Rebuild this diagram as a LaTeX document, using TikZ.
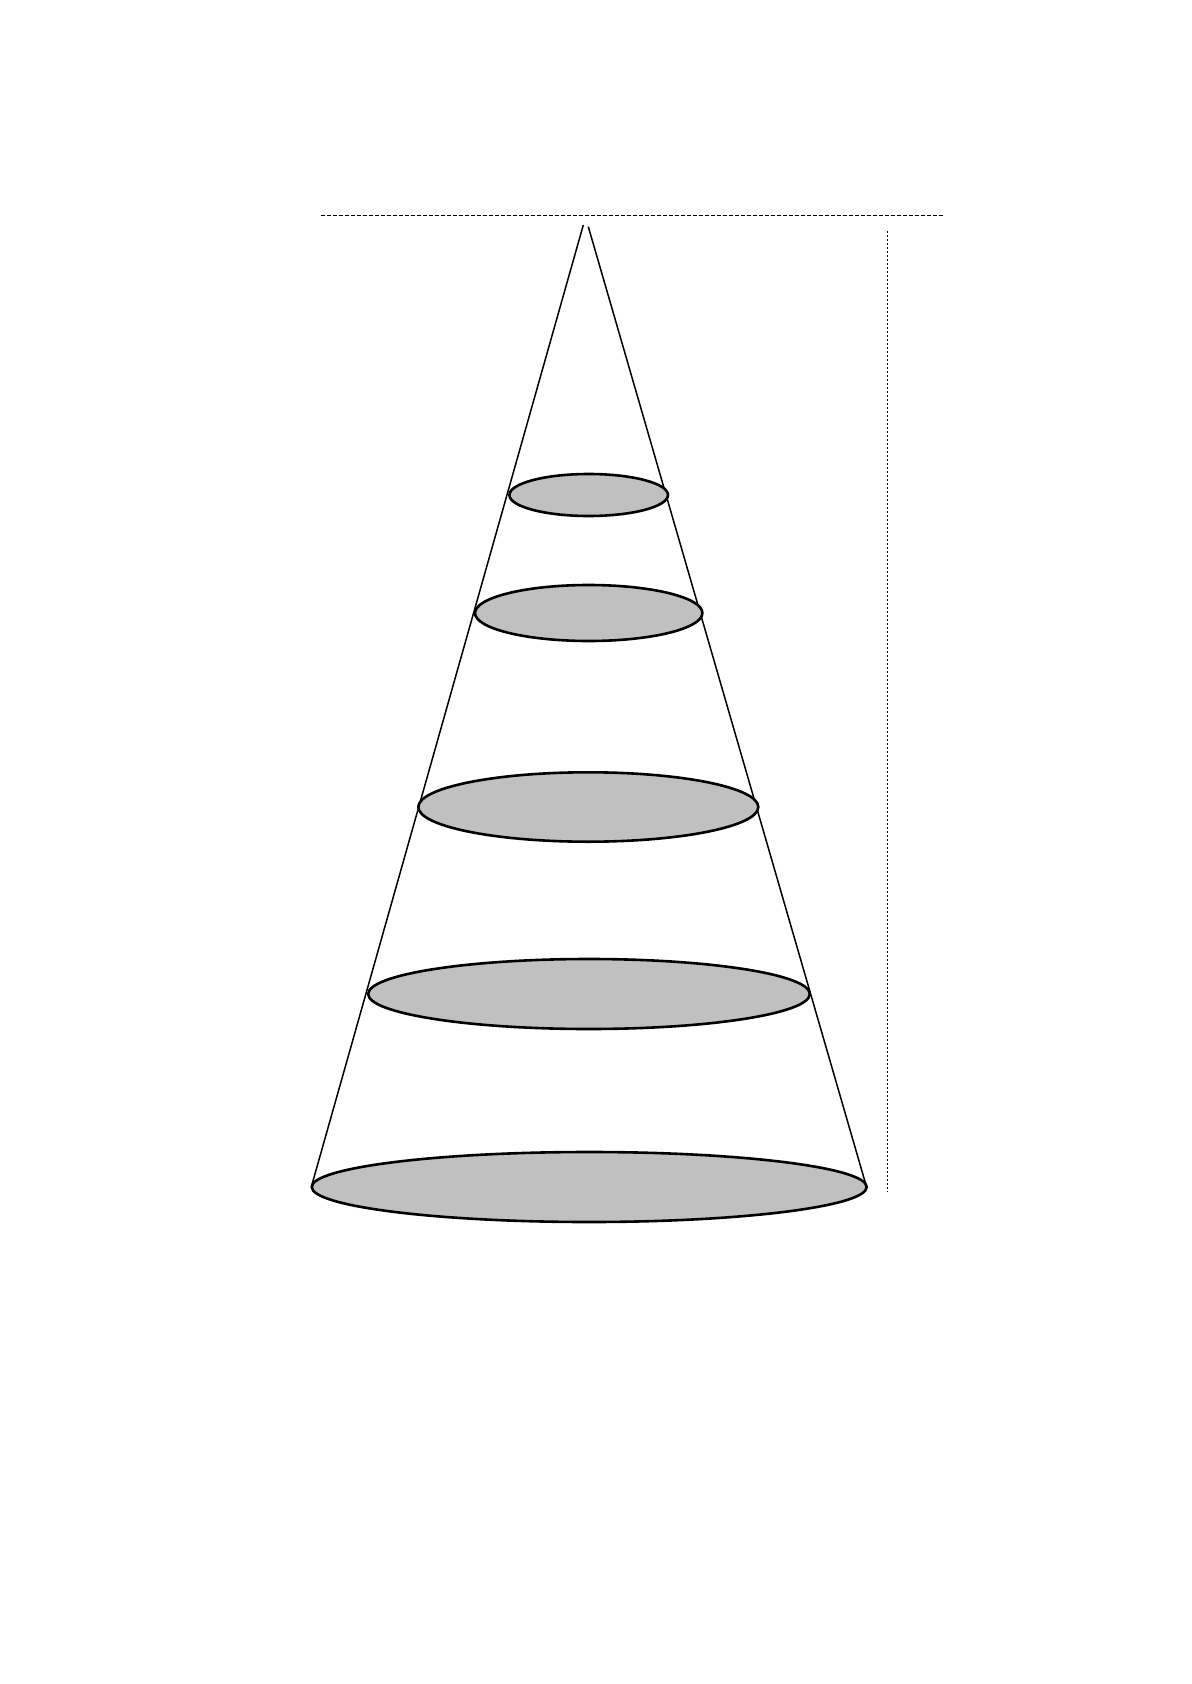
\documentclass[tikz,border=0pt]{standalone}
\begin{document}
\begin{tikzpicture}[x=0.5pt,y=-0.5pt,
  coneline/.style={line width=0.75pt,black},
  disc/.style={draw=black,line width=1.3pt,fill={rgb,255:red,192;green,192;blue,192}},
  guideh/.style={line width=0.55pt,black,dash pattern=on 2 off 1},
  guidev/.style={line width=0.55pt,black,dash pattern=on 1 off 1}]
\useasboundingbox (0,0) rectangle (1191,1684);
% guide lines
\coordinate (hl) at (320.7,215.7);
\coordinate (hr) at (942.7,215.7);
\coordinate (vt) at (887.3,231);
\coordinate (vb) at (887.3,1191.7);
\draw[guideh] (hl) -- (hr);
\draw[guidev] (vt) -- (vb);
% cone sides
\coordinate (apexL) at (583.3,225);
\coordinate (apexR) at (588.3,226.7);
\coordinate (baseL) at (311.7,1185.5);
\coordinate (baseR) at (866.7,1187.5);
\draw[coneline] (apexL) -- (baseL);
\draw[coneline] (apexR) -- (baseR);
% discs
\draw[disc] (588.7,495) ellipse [x radius=79.3, y radius=21];
\draw[disc] (588.7,613) ellipse [x radius=113.7, y radius=28];
\draw[disc] (588.3,807) ellipse [x radius=170, y radius=34.7];
\draw[disc] (589,994) ellipse [x radius=220.8, y radius=35];
\draw[disc] (589.2,1187) ellipse [x radius=277.5, y radius=35];
\end{tikzpicture}
\end{document}
